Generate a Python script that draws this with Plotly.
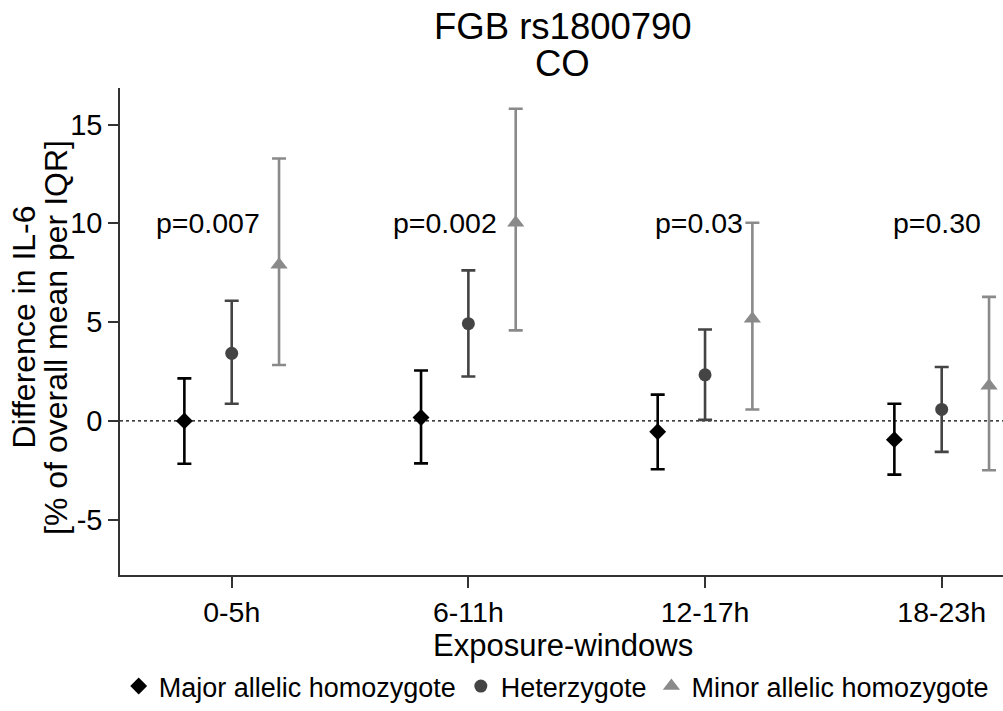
import plotly.graph_objects as go

# ---- data ----
categories = ["0-5h", "6-11h", "12-17h", "18-23h"]
series_names = ["Major allelic homozygote", "Heterzygote", "Minor allelic homozygote"]

major = [0.0, 0.17, -0.55, -0.95]
major_lo = [-2.17, -2.15, -2.45, -2.72]
major_hi = [2.15, 2.55, 1.33, 0.87]

het = [3.42, 4.92, 2.33, 0.58]
het_lo = [0.87, 2.25, 0.05, -1.57]
het_hi = [6.08, 7.62, 4.63, 2.73]

minor = [7.9, 10.03, 5.17, 1.78]
minor_lo = [2.83, 4.58, 0.58, -2.5]
minor_hi = [13.28, 15.8, 10.03, 6.28]

p_labels = ["p=0.007", "p=0.002", "p=0.03", "p=0.30"]
p_offsets = [-0.1, -0.1, -0.025, -0.02]
p_y = 10

FONT = "Liberation Sans, Arial, Helvetica, sans-serif"

# ---- styles ----
offsets = [-0.2, 0.0, 0.2]
colors = ["#000000", "#444444", "#8a8a8a"]
symbols = ["diamond", "circle", "triangle-up"]
sizes = [13, 13, 15]

fig = go.Figure()

all_series = [(major, major_lo, major_hi), (het, het_lo, het_hi), (minor, minor_lo, minor_hi)]
for i, (vals, lo, hi) in enumerate(all_series):
    xs = [k + offsets[i] for k in range(len(categories))]
    fig.add_trace(go.Scatter(
        x=xs, y=vals, mode="markers", name=series_names[i],
        marker=dict(symbol=symbols[i], size=sizes[i], color=colors[i], line=dict(width=0)),
        error_y=dict(type="data", symmetric=False,
                     array=[h - v for h, v in zip(hi, vals)],
                     arrayminus=[v - l for v, l in zip(vals, lo)],
                     color=colors[i], thickness=2.6, width=7),
    ))

# zero reference line
fig.add_shape(type="line", xref="paper", x0=0, x1=1, yref="y", y0=0, y1=0,
              line=dict(color="#000000", width=1.2, dash="dot"), layer="below")

# p-value labels
for k, (lab, off) in enumerate(zip(p_labels, p_offsets)):
    fig.add_annotation(x=k + off, y=p_y, xref="x", yref="y", text=lab, showarrow=False,
                       font=dict(family=FONT, size=28.5, color="#000000"),
                       xanchor="center", yanchor="middle")

# titles as annotations (paper coords)
def add_text(text, x, y, size, angle=0):
    fig.add_annotation(x=x, y=y, xref="paper", yref="paper", text=text, showarrow=False,
                       font=dict(family=FONT, size=size, color="#000000"),
                       xanchor="center", yanchor="middle", textangle=angle)

add_text("FGB rs1800790", 0.5015, 1.127, 36.5)
add_text("CO", 0.5015, 1.051, 36.5)
add_text("Exposure-windows", 0.5015, -0.145, 31)
add_text("Difference in IL-6", -0.1087, (581 - 330.5) / 493, 32, -90)
add_text("[% of overall mean per IQR]", -0.0725, (581 - 340) / 493, 32, -90)

fig.update_layout(
    width=1003, height=711,
    margin=dict(l=120, r=0, t=88, b=130),
    paper_bgcolor="white", plot_bgcolor="white",
    font=dict(family=FONT, size=28, color="#000000"),
    showlegend=True,
    legend=dict(orientation="h", x=0.494, xanchor="center", y=-0.229, yanchor="middle",
                font=dict(family=FONT, size=27, color="#000000"),
                bgcolor="rgba(0,0,0,0)", borderwidth=0),
    xaxis=dict(range=[-0.472, 3.259], tickmode="array", tickvals=list(range(len(categories))),
               ticktext=categories, showgrid=False, zeroline=False,
               showline=True, linecolor="#333333", linewidth=1.5,
               ticks="outside", ticklen=11, tickwidth=1.5, tickcolor="#333333",
               tickfont=dict(family=FONT, size=28.5, color="#000000")),
    yaxis=dict(range=[-7.8, 16.85], tickmode="array", tickvals=[-5, 0, 5, 10, 15],
               ticktext=["-5", "0", "5", "10", "15"], showgrid=False, zeroline=False,
               showline=True, linecolor="#333333", linewidth=1.5,
               ticks="outside", ticklen=10, tickwidth=1.5, tickcolor="#333333",
               tickfont=dict(family=FONT, size=29, color="#000000")),
)

fig.write_html("out.html")
